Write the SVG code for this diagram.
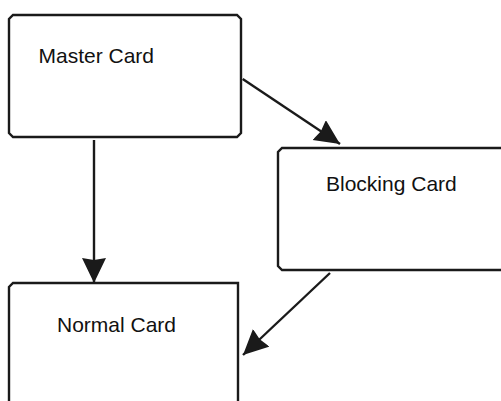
<svg xmlns="http://www.w3.org/2000/svg" width="501" height="401" viewBox="0 0 501 401">
<style>
.box{fill:#fff;stroke:#1a1a1a;stroke-width:2.4;stroke-linejoin:miter}
.lbl{font-family:"Liberation Sans",Arial,sans-serif;font-size:21px;fill:#111}
.conn{stroke:#1a1a1a;stroke-width:2.4;fill:none}
</style>
<defs>
<marker id="ah" markerUnits="userSpaceOnUse" markerWidth="28" markerHeight="26" refX="25" refY="12" orient="auto">
<path d="M0,0 L25,12 L0,24 L2,12 Z" fill="#1a1a1a"/>
</marker>
</defs>
<rect width="501" height="401" fill="#fff"/>
<g id="master">
<path class="box" d="M13,15 H237 L241,19 V133 L237,137 H13 L9,133 V19 Z"/>
<text class="lbl" x="38.5" y="63.3">Master Card</text>
</g>
<g id="blocking">
<path class="box" d="M510,148 H282 L278,152 V266 L282,270 H510"/>
<text class="lbl" x="326" y="190.7">Blocking Card</text>
</g>
<g id="normal">
<path class="box" d="M9,410 V287 L13,283 H238 V410"/>
<text class="lbl" x="57" y="331.7">Normal Card</text>
</g>
<g id="connectors">
<line class="conn" x1="94" y1="140" x2="94" y2="283" marker-end="url(#ah)"/>
<line class="conn" x1="242.7" y1="79" x2="340" y2="144" marker-end="url(#ah)"/>
<line class="conn" x1="330" y1="273" x2="243" y2="355" marker-end="url(#ah)"/>
</g>
</svg>
